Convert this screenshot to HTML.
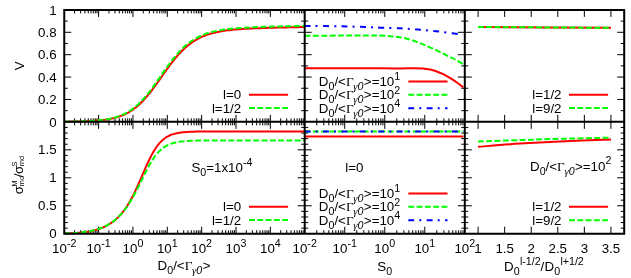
<!DOCTYPE html>
<html><head><meta charset="utf-8"><title>plot</title>
<style>
html,body{margin:0;padding:0;background:#fff;}
svg{display:block;will-change:transform}
svg{font-family:"Liberation Sans",sans-serif;font-size:13.33px;fill:#000}
.sf{font-family:"Liberation Serif",serif}
.a{fill:none;stroke:#000;stroke-width:2.0}
.t{fill:none;stroke:#000;stroke-width:1}
</style></head><body>
<svg width="631" height="278" viewBox="0 0 631 278">
<rect width="631" height="278" fill="#fff"/>
<path class="t" d="M74.59 9.90L74.59 13.40M74.59 121.85L74.59 118.35M80.64 9.90L80.64 13.40M80.64 121.85L80.64 118.35M84.93 9.90L84.93 13.40M84.93 121.85L84.93 118.35M88.26 9.90L88.26 13.40M88.26 121.85L88.26 118.35M90.98 9.90L90.98 13.40M90.98 121.85L90.98 118.35M93.28 9.90L93.28 13.40M93.28 121.85L93.28 118.35M95.27 9.90L95.27 13.40M95.27 121.85L95.27 118.35M97.03 9.90L97.03 13.40M97.03 121.85L97.03 118.35M98.60 9.90L98.60 16.90M98.60 121.85L98.60 114.85M108.94 9.90L108.94 13.40M108.94 121.85L108.94 118.35M114.99 9.90L114.99 13.40M114.99 121.85L114.99 118.35M119.28 9.90L119.28 13.40M119.28 121.85L119.28 118.35M122.61 9.90L122.61 13.40M122.61 121.85L122.61 118.35M125.33 9.90L125.33 13.40M125.33 121.85L125.33 118.35M127.63 9.90L127.63 13.40M127.63 121.85L127.63 118.35M129.62 9.90L129.62 13.40M129.62 121.85L129.62 118.35M131.38 9.90L131.38 13.40M131.38 121.85L131.38 118.35M132.95 9.90L132.95 16.90M132.95 121.85L132.95 114.85M143.29 9.90L143.29 13.40M143.29 121.85L143.29 118.35M149.34 9.90L149.34 13.40M149.34 121.85L149.34 118.35M153.63 9.90L153.63 13.40M153.63 121.85L153.63 118.35M156.96 9.90L156.96 13.40M156.96 121.85L156.96 118.35M159.68 9.90L159.68 13.40M159.68 121.85L159.68 118.35M161.98 9.90L161.98 13.40M161.98 121.85L161.98 118.35M163.97 9.90L163.97 13.40M163.97 121.85L163.97 118.35M165.73 9.90L165.73 13.40M165.73 121.85L165.73 118.35M167.30 9.90L167.30 16.90M167.30 121.85L167.30 114.85M177.64 9.90L177.64 13.40M177.64 121.85L177.64 118.35M183.69 9.90L183.69 13.40M183.69 121.85L183.69 118.35M187.98 9.90L187.98 13.40M187.98 121.85L187.98 118.35M191.31 9.90L191.31 13.40M191.31 121.85L191.31 118.35M194.03 9.90L194.03 13.40M194.03 121.85L194.03 118.35M196.33 9.90L196.33 13.40M196.33 121.85L196.33 118.35M198.32 9.90L198.32 13.40M198.32 121.85L198.32 118.35M200.08 9.90L200.08 13.40M200.08 121.85L200.08 118.35M201.65 9.90L201.65 16.90M201.65 121.85L201.65 114.85M211.99 9.90L211.99 13.40M211.99 121.85L211.99 118.35M218.04 9.90L218.04 13.40M218.04 121.85L218.04 118.35M222.33 9.90L222.33 13.40M222.33 121.85L222.33 118.35M225.66 9.90L225.66 13.40M225.66 121.85L225.66 118.35M228.38 9.90L228.38 13.40M228.38 121.85L228.38 118.35M230.68 9.90L230.68 13.40M230.68 121.85L230.68 118.35M232.67 9.90L232.67 13.40M232.67 121.85L232.67 118.35M234.43 9.90L234.43 13.40M234.43 121.85L234.43 118.35M236.00 9.90L236.00 16.90M236.00 121.85L236.00 114.85M246.34 9.90L246.34 13.40M246.34 121.85L246.34 118.35M252.39 9.90L252.39 13.40M252.39 121.85L252.39 118.35M256.68 9.90L256.68 13.40M256.68 121.85L256.68 118.35M260.01 9.90L260.01 13.40M260.01 121.85L260.01 118.35M262.73 9.90L262.73 13.40M262.73 121.85L262.73 118.35M265.03 9.90L265.03 13.40M265.03 121.85L265.03 118.35M267.02 9.90L267.02 13.40M267.02 121.85L267.02 118.35M268.78 9.90L268.78 13.40M268.78 121.85L268.78 118.35M270.35 9.90L270.35 16.90M270.35 121.85L270.35 114.85M280.69 9.90L280.69 13.40M280.69 121.85L280.69 118.35M286.74 9.90L286.74 13.40M286.74 121.85L286.74 118.35M291.03 9.90L291.03 13.40M291.03 121.85L291.03 118.35M294.36 9.90L294.36 13.40M294.36 121.85L294.36 118.35M297.08 9.90L297.08 13.40M297.08 121.85L297.08 118.35M299.38 9.90L299.38 13.40M299.38 121.85L299.38 118.35M301.37 9.90L301.37 13.40M301.37 121.85L301.37 118.35M303.13 9.90L303.13 13.40M303.13 121.85L303.13 118.35M316.75 9.90L316.75 13.40M316.75 121.85L316.75 118.35M323.80 9.90L323.80 13.40M323.80 121.85L323.80 118.35M328.80 9.90L328.80 13.40M328.80 121.85L328.80 118.35M332.68 9.90L332.68 13.40M332.68 121.85L332.68 118.35M335.85 9.90L335.85 13.40M335.85 121.85L335.85 118.35M338.53 9.90L338.53 13.40M338.53 121.85L338.53 118.35M340.85 9.90L340.85 13.40M340.85 121.85L340.85 118.35M342.89 9.90L342.89 13.40M342.89 121.85L342.89 118.35M344.73 9.90L344.73 16.90M344.73 121.85L344.73 114.85M356.77 9.90L356.77 13.40M356.77 121.85L356.77 118.35M363.82 9.90L363.82 13.40M363.82 121.85L363.82 118.35M368.82 9.90L368.82 13.40M368.82 121.85L368.82 118.35M372.70 9.90L372.70 13.40M372.70 121.85L372.70 118.35M375.87 9.90L375.87 13.40M375.87 121.85L375.87 118.35M378.55 9.90L378.55 13.40M378.55 121.85L378.55 118.35M380.87 9.90L380.87 13.40M380.87 121.85L380.87 118.35M382.92 9.90L382.92 13.40M382.92 121.85L382.92 118.35M384.75 9.90L384.75 16.90M384.75 121.85L384.75 114.85M396.80 9.90L396.80 13.40M396.80 121.85L396.80 118.35M403.85 9.90L403.85 13.40M403.85 121.85L403.85 118.35M408.85 9.90L408.85 13.40M408.85 121.85L408.85 118.35M412.73 9.90L412.73 13.40M412.73 121.85L412.73 118.35M415.90 9.90L415.90 13.40M415.90 121.85L415.90 118.35M418.58 9.90L418.58 13.40M418.58 121.85L418.58 118.35M420.90 9.90L420.90 13.40M420.90 121.85L420.90 118.35M422.94 9.90L422.94 13.40M422.94 121.85L422.94 118.35M424.77 9.90L424.77 16.90M424.77 121.85L424.77 114.85M436.82 9.90L436.82 13.40M436.82 121.85L436.82 118.35M443.87 9.90L443.87 13.40M443.87 121.85L443.87 118.35M448.87 9.90L448.87 13.40M448.87 121.85L448.87 118.35M452.75 9.90L452.75 13.40M452.75 121.85L452.75 118.35M455.92 9.90L455.92 13.40M455.92 121.85L455.92 118.35M458.60 9.90L458.60 13.40M458.60 121.85L458.60 118.35M460.92 9.90L460.92 13.40M460.92 121.85L460.92 118.35M462.97 9.90L462.97 13.40M462.97 121.85L462.97 118.35M478.08 9.90L478.08 16.90M478.08 121.85L478.08 114.85M504.65 9.90L504.65 16.90M504.65 121.85L504.65 114.85M531.22 9.90L531.22 16.90M531.22 121.85L531.22 114.85M557.78 9.90L557.78 16.90M557.78 121.85L557.78 114.85M584.35 9.90L584.35 16.90M584.35 121.85L584.35 114.85M610.92 9.90L610.92 16.90M610.92 121.85L610.92 114.85M74.59 121.85L74.59 125.35M74.59 233.75L74.59 230.25M80.64 121.85L80.64 125.35M80.64 233.75L80.64 230.25M84.93 121.85L84.93 125.35M84.93 233.75L84.93 230.25M88.26 121.85L88.26 125.35M88.26 233.75L88.26 230.25M90.98 121.85L90.98 125.35M90.98 233.75L90.98 230.25M93.28 121.85L93.28 125.35M93.28 233.75L93.28 230.25M95.27 121.85L95.27 125.35M95.27 233.75L95.27 230.25M97.03 121.85L97.03 125.35M97.03 233.75L97.03 230.25M98.60 121.85L98.60 128.85M98.60 233.75L98.60 226.75M108.94 121.85L108.94 125.35M108.94 233.75L108.94 230.25M114.99 121.85L114.99 125.35M114.99 233.75L114.99 230.25M119.28 121.85L119.28 125.35M119.28 233.75L119.28 230.25M122.61 121.85L122.61 125.35M122.61 233.75L122.61 230.25M125.33 121.85L125.33 125.35M125.33 233.75L125.33 230.25M127.63 121.85L127.63 125.35M127.63 233.75L127.63 230.25M129.62 121.85L129.62 125.35M129.62 233.75L129.62 230.25M131.38 121.85L131.38 125.35M131.38 233.75L131.38 230.25M132.95 121.85L132.95 128.85M132.95 233.75L132.95 226.75M143.29 121.85L143.29 125.35M143.29 233.75L143.29 230.25M149.34 121.85L149.34 125.35M149.34 233.75L149.34 230.25M153.63 121.85L153.63 125.35M153.63 233.75L153.63 230.25M156.96 121.85L156.96 125.35M156.96 233.75L156.96 230.25M159.68 121.85L159.68 125.35M159.68 233.75L159.68 230.25M161.98 121.85L161.98 125.35M161.98 233.75L161.98 230.25M163.97 121.85L163.97 125.35M163.97 233.75L163.97 230.25M165.73 121.85L165.73 125.35M165.73 233.75L165.73 230.25M167.30 121.85L167.30 128.85M167.30 233.75L167.30 226.75M177.64 121.85L177.64 125.35M177.64 233.75L177.64 230.25M183.69 121.85L183.69 125.35M183.69 233.75L183.69 230.25M187.98 121.85L187.98 125.35M187.98 233.75L187.98 230.25M191.31 121.85L191.31 125.35M191.31 233.75L191.31 230.25M194.03 121.85L194.03 125.35M194.03 233.75L194.03 230.25M196.33 121.85L196.33 125.35M196.33 233.75L196.33 230.25M198.32 121.85L198.32 125.35M198.32 233.75L198.32 230.25M200.08 121.85L200.08 125.35M200.08 233.75L200.08 230.25M201.65 121.85L201.65 128.85M201.65 233.75L201.65 226.75M211.99 121.85L211.99 125.35M211.99 233.75L211.99 230.25M218.04 121.85L218.04 125.35M218.04 233.75L218.04 230.25M222.33 121.85L222.33 125.35M222.33 233.75L222.33 230.25M225.66 121.85L225.66 125.35M225.66 233.75L225.66 230.25M228.38 121.85L228.38 125.35M228.38 233.75L228.38 230.25M230.68 121.85L230.68 125.35M230.68 233.75L230.68 230.25M232.67 121.85L232.67 125.35M232.67 233.75L232.67 230.25M234.43 121.85L234.43 125.35M234.43 233.75L234.43 230.25M236.00 121.85L236.00 128.85M236.00 233.75L236.00 226.75M246.34 121.85L246.34 125.35M246.34 233.75L246.34 230.25M252.39 121.85L252.39 125.35M252.39 233.75L252.39 230.25M256.68 121.85L256.68 125.35M256.68 233.75L256.68 230.25M260.01 121.85L260.01 125.35M260.01 233.75L260.01 230.25M262.73 121.85L262.73 125.35M262.73 233.75L262.73 230.25M265.03 121.85L265.03 125.35M265.03 233.75L265.03 230.25M267.02 121.85L267.02 125.35M267.02 233.75L267.02 230.25M268.78 121.85L268.78 125.35M268.78 233.75L268.78 230.25M270.35 121.85L270.35 128.85M270.35 233.75L270.35 226.75M280.69 121.85L280.69 125.35M280.69 233.75L280.69 230.25M286.74 121.85L286.74 125.35M286.74 233.75L286.74 230.25M291.03 121.85L291.03 125.35M291.03 233.75L291.03 230.25M294.36 121.85L294.36 125.35M294.36 233.75L294.36 230.25M297.08 121.85L297.08 125.35M297.08 233.75L297.08 230.25M299.38 121.85L299.38 125.35M299.38 233.75L299.38 230.25M301.37 121.85L301.37 125.35M301.37 233.75L301.37 230.25M303.13 121.85L303.13 125.35M303.13 233.75L303.13 230.25M316.75 121.85L316.75 125.35M316.75 233.75L316.75 230.25M323.80 121.85L323.80 125.35M323.80 233.75L323.80 230.25M328.80 121.85L328.80 125.35M328.80 233.75L328.80 230.25M332.68 121.85L332.68 125.35M332.68 233.75L332.68 230.25M335.85 121.85L335.85 125.35M335.85 233.75L335.85 230.25M338.53 121.85L338.53 125.35M338.53 233.75L338.53 230.25M340.85 121.85L340.85 125.35M340.85 233.75L340.85 230.25M342.89 121.85L342.89 125.35M342.89 233.75L342.89 230.25M344.73 121.85L344.73 128.85M344.73 233.75L344.73 226.75M356.77 121.85L356.77 125.35M356.77 233.75L356.77 230.25M363.82 121.85L363.82 125.35M363.82 233.75L363.82 230.25M368.82 121.85L368.82 125.35M368.82 233.75L368.82 230.25M372.70 121.85L372.70 125.35M372.70 233.75L372.70 230.25M375.87 121.85L375.87 125.35M375.87 233.75L375.87 230.25M378.55 121.85L378.55 125.35M378.55 233.75L378.55 230.25M380.87 121.85L380.87 125.35M380.87 233.75L380.87 230.25M382.92 121.85L382.92 125.35M382.92 233.75L382.92 230.25M384.75 121.85L384.75 128.85M384.75 233.75L384.75 226.75M396.80 121.85L396.80 125.35M396.80 233.75L396.80 230.25M403.85 121.85L403.85 125.35M403.85 233.75L403.85 230.25M408.85 121.85L408.85 125.35M408.85 233.75L408.85 230.25M412.73 121.85L412.73 125.35M412.73 233.75L412.73 230.25M415.90 121.85L415.90 125.35M415.90 233.75L415.90 230.25M418.58 121.85L418.58 125.35M418.58 233.75L418.58 230.25M420.90 121.85L420.90 125.35M420.90 233.75L420.90 230.25M422.94 121.85L422.94 125.35M422.94 233.75L422.94 230.25M424.77 121.85L424.77 128.85M424.77 233.75L424.77 226.75M436.82 121.85L436.82 125.35M436.82 233.75L436.82 230.25M443.87 121.85L443.87 125.35M443.87 233.75L443.87 230.25M448.87 121.85L448.87 125.35M448.87 233.75L448.87 230.25M452.75 121.85L452.75 125.35M452.75 233.75L452.75 230.25M455.92 121.85L455.92 125.35M455.92 233.75L455.92 230.25M458.60 121.85L458.60 125.35M458.60 233.75L458.60 230.25M460.92 121.85L460.92 125.35M460.92 233.75L460.92 230.25M462.97 121.85L462.97 125.35M462.97 233.75L462.97 230.25M478.08 121.85L478.08 128.85M478.08 233.75L478.08 226.75M504.65 121.85L504.65 128.85M504.65 233.75L504.65 226.75M531.22 121.85L531.22 128.85M531.22 233.75L531.22 226.75M557.78 121.85L557.78 128.85M557.78 233.75L557.78 226.75M584.35 121.85L584.35 128.85M584.35 233.75L584.35 226.75M610.92 121.85L610.92 128.85M610.92 233.75L610.92 226.75M64.25 110.66L67.75 110.66M304.70 110.66L301.20 110.66M304.70 110.66L308.20 110.66M464.80 110.66L461.30 110.66M464.80 110.66L468.30 110.66M624.20 110.66L620.70 110.66M64.25 99.46L71.25 99.46M304.70 99.46L297.70 99.46M304.70 99.46L311.70 99.46M464.80 99.46L457.80 99.46M464.80 99.46L471.80 99.46M624.20 99.46L617.20 99.46M64.25 88.26L67.75 88.26M304.70 88.26L301.20 88.26M304.70 88.26L308.20 88.26M464.80 88.26L461.30 88.26M464.80 88.26L468.30 88.26M624.20 88.26L620.70 88.26M64.25 77.07L71.25 77.07M304.70 77.07L297.70 77.07M304.70 77.07L311.70 77.07M464.80 77.07L457.80 77.07M464.80 77.07L471.80 77.07M624.20 77.07L617.20 77.07M64.25 65.88L67.75 65.88M304.70 65.88L301.20 65.88M304.70 65.88L308.20 65.88M464.80 65.88L461.30 65.88M464.80 65.88L468.30 65.88M624.20 65.88L620.70 65.88M64.25 54.68L71.25 54.68M304.70 54.68L297.70 54.68M304.70 54.68L311.70 54.68M464.80 54.68L457.80 54.68M464.80 54.68L471.80 54.68M624.20 54.68L617.20 54.68M64.25 43.48L67.75 43.48M304.70 43.48L301.20 43.48M304.70 43.48L308.20 43.48M464.80 43.48L461.30 43.48M464.80 43.48L468.30 43.48M624.20 43.48L620.70 43.48M64.25 32.29L71.25 32.29M304.70 32.29L297.70 32.29M304.70 32.29L311.70 32.29M464.80 32.29L457.80 32.29M464.80 32.29L471.80 32.29M624.20 32.29L617.20 32.29M64.25 21.09L67.75 21.09M304.70 21.09L301.20 21.09M304.70 21.09L308.20 21.09M464.80 21.09L461.30 21.09M464.80 21.09L468.30 21.09M624.20 21.09L620.70 21.09M64.25 228.16L67.75 228.16M304.70 228.16L301.20 228.16M304.70 228.16L308.20 228.16M464.80 228.16L461.30 228.16M464.80 228.16L468.30 228.16M624.20 228.16L620.70 228.16M64.25 222.56L67.75 222.56M304.70 222.56L301.20 222.56M304.70 222.56L308.20 222.56M464.80 222.56L461.30 222.56M464.80 222.56L468.30 222.56M624.20 222.56L620.70 222.56M64.25 216.97L67.75 216.97M304.70 216.97L301.20 216.97M304.70 216.97L308.20 216.97M464.80 216.97L461.30 216.97M464.80 216.97L468.30 216.97M624.20 216.97L620.70 216.97M64.25 211.37L67.75 211.37M304.70 211.37L301.20 211.37M304.70 211.37L308.20 211.37M464.80 211.37L461.30 211.37M464.80 211.37L468.30 211.37M624.20 211.37L620.70 211.37M64.25 205.78L71.25 205.78M304.70 205.78L297.70 205.78M304.70 205.78L311.70 205.78M464.80 205.78L457.80 205.78M464.80 205.78L471.80 205.78M624.20 205.78L617.20 205.78M64.25 200.18L67.75 200.18M304.70 200.18L301.20 200.18M304.70 200.18L308.20 200.18M464.80 200.18L461.30 200.18M464.80 200.18L468.30 200.18M624.20 200.18L620.70 200.18M64.25 194.58L67.75 194.58M304.70 194.58L301.20 194.58M304.70 194.58L308.20 194.58M464.80 194.58L461.30 194.58M464.80 194.58L468.30 194.58M624.20 194.58L620.70 194.58M64.25 188.99L67.75 188.99M304.70 188.99L301.20 188.99M304.70 188.99L308.20 188.99M464.80 188.99L461.30 188.99M464.80 188.99L468.30 188.99M624.20 188.99L620.70 188.99M64.25 183.39L67.75 183.39M304.70 183.39L301.20 183.39M304.70 183.39L308.20 183.39M464.80 183.39L461.30 183.39M464.80 183.39L468.30 183.39M624.20 183.39L620.70 183.39M64.25 177.80L71.25 177.80M304.70 177.80L297.70 177.80M304.70 177.80L311.70 177.80M464.80 177.80L457.80 177.80M464.80 177.80L471.80 177.80M624.20 177.80L617.20 177.80M64.25 172.20L67.75 172.20M304.70 172.20L301.20 172.20M304.70 172.20L308.20 172.20M464.80 172.20L461.30 172.20M464.80 172.20L468.30 172.20M624.20 172.20L620.70 172.20M64.25 166.61L67.75 166.61M304.70 166.61L301.20 166.61M304.70 166.61L308.20 166.61M464.80 166.61L461.30 166.61M464.80 166.61L468.30 166.61M624.20 166.61L620.70 166.61M64.25 161.01L67.75 161.01M304.70 161.01L301.20 161.01M304.70 161.01L308.20 161.01M464.80 161.01L461.30 161.01M464.80 161.01L468.30 161.01M624.20 161.01L620.70 161.01M64.25 155.42L67.75 155.42M304.70 155.42L301.20 155.42M304.70 155.42L308.20 155.42M464.80 155.42L461.30 155.42M464.80 155.42L468.30 155.42M624.20 155.42L620.70 155.42M64.25 149.82L71.25 149.82M304.70 149.82L297.70 149.82M304.70 149.82L311.70 149.82M464.80 149.82L457.80 149.82M464.80 149.82L471.80 149.82M624.20 149.82L617.20 149.82M64.25 144.23L67.75 144.23M304.70 144.23L301.20 144.23M304.70 144.23L308.20 144.23M464.80 144.23L461.30 144.23M464.80 144.23L468.30 144.23M624.20 144.23L620.70 144.23M64.25 138.63L67.75 138.63M304.70 138.63L301.20 138.63M304.70 138.63L308.20 138.63M464.80 138.63L461.30 138.63M464.80 138.63L468.30 138.63M624.20 138.63L620.70 138.63M64.25 133.04L67.75 133.04M304.70 133.04L301.20 133.04M304.70 133.04L308.20 133.04M464.80 133.04L461.30 133.04M464.80 133.04L468.30 133.04M624.20 133.04L620.70 133.04M64.25 127.44L67.75 127.44M304.70 127.44L301.20 127.44M304.70 127.44L308.20 127.44M464.80 127.44L461.30 127.44M464.80 127.44L468.30 127.44M624.20 127.44L620.70 127.44"/>
<path d="M64.30 121.67C64.59 121.67 65.44 121.66 66.02 121.66C66.59 121.65 67.16 121.65 67.73 121.64C68.31 121.63 68.88 121.63 69.45 121.62C70.02 121.61 70.60 121.61 71.17 121.60C71.74 121.59 72.31 121.58 72.89 121.57C73.46 121.56 74.03 121.55 74.60 121.54C75.18 121.53 75.75 121.52 76.32 121.51C76.89 121.50 77.46 121.49 78.04 121.47C78.61 121.46 79.18 121.45 79.75 121.43C80.33 121.42 80.90 121.40 81.47 121.39C82.04 121.37 82.62 121.35 83.19 121.33C83.76 121.31 84.33 121.30 84.91 121.27C85.48 121.25 86.05 121.23 86.62 121.21C87.20 121.18 87.77 121.16 88.34 121.13C88.91 121.11 89.48 121.08 90.06 121.05C90.63 121.02 91.20 120.99 91.77 120.96C92.35 120.92 92.92 120.89 93.49 120.85C94.06 120.81 94.64 120.77 95.21 120.73C95.78 120.69 96.35 120.64 96.93 120.60C97.50 120.55 98.07 120.50 98.64 120.45C99.22 120.40 99.79 120.34 100.36 120.28C100.93 120.22 101.50 120.16 102.08 120.09C102.65 120.03 103.22 119.96 103.79 119.88C104.37 119.81 104.94 119.73 105.51 119.65C106.08 119.57 106.66 119.48 107.23 119.39C107.80 119.29 108.37 119.20 108.95 119.09C109.52 118.99 110.09 118.88 110.66 118.77C111.24 118.65 111.81 118.53 112.38 118.40C112.95 118.27 113.52 118.14 114.10 118.00C114.67 117.85 115.24 117.71 115.81 117.55C116.39 117.39 116.96 117.22 117.53 117.05C118.10 116.87 118.68 116.69 119.25 116.50C119.82 116.30 120.39 116.10 120.97 115.89C121.54 115.67 122.11 115.45 122.68 115.21C123.26 114.98 123.83 114.73 124.40 114.47C124.97 114.21 125.55 113.94 126.12 113.66C126.69 113.37 127.26 113.08 127.83 112.76C128.41 112.45 128.98 112.13 129.55 111.79C130.12 111.45 130.70 111.10 131.27 110.73C131.84 110.36 132.41 109.97 132.99 109.57C133.56 109.17 134.13 108.75 134.70 108.32C135.28 107.89 135.85 107.44 136.42 106.97C136.99 106.50 137.57 106.02 138.14 105.52C138.71 105.02 139.28 104.50 139.85 103.96C140.43 103.43 141.00 102.87 141.57 102.30C142.14 101.73 142.72 101.15 143.29 100.54C143.86 99.94 144.43 99.32 145.01 98.68C145.58 98.04 146.15 97.39 146.72 96.72C147.30 96.05 147.87 95.37 148.44 94.67C149.01 93.97 149.59 93.25 150.16 92.53C150.73 91.80 151.30 91.06 151.87 90.31C152.45 89.56 153.02 88.79 153.59 88.02C154.16 87.25 154.74 86.47 155.31 85.68C155.88 84.89 156.45 84.09 157.03 83.28C157.60 82.48 158.17 81.67 158.74 80.86C159.32 80.04 159.89 79.23 160.46 78.41C161.03 77.59 161.61 76.77 162.18 75.95C162.75 75.13 163.32 74.32 163.89 73.50C164.47 72.69 165.04 71.87 165.61 71.07C166.18 70.26 166.76 69.46 167.33 68.67C167.90 67.87 168.47 67.09 169.05 66.31C169.62 65.53 170.19 64.76 170.76 64.01C171.34 63.25 171.91 62.50 172.48 61.77C173.05 61.03 173.63 60.31 174.20 59.60C174.77 58.89 175.34 58.19 175.91 57.51C176.49 56.83 177.06 56.16 177.63 55.51C178.20 54.86 178.78 54.22 179.35 53.60C179.92 52.97 180.49 52.37 181.07 51.77C181.64 51.18 182.21 50.61 182.78 50.05C183.36 49.49 183.93 48.95 184.50 48.42C185.07 47.89 185.65 47.38 186.22 46.88C186.79 46.39 187.36 45.91 187.93 45.44C188.51 44.98 189.08 44.53 189.65 44.09C190.22 43.66 190.80 43.24 191.37 42.83C191.94 42.43 192.51 42.04 193.09 41.66C193.66 41.28 194.23 40.92 194.80 40.57C195.38 40.22 195.95 39.88 196.52 39.55C197.09 39.23 197.67 38.92 198.24 38.61C198.81 38.31 199.38 38.02 199.95 37.75C200.53 37.47 201.10 37.20 201.67 36.94C202.24 36.69 202.82 36.44 203.39 36.20C203.96 35.97 204.53 35.74 205.11 35.52C205.68 35.31 206.25 35.10 206.82 34.90C207.40 34.70 207.97 34.50 208.54 34.32C209.11 34.13 209.69 33.96 210.26 33.79C210.83 33.62 211.40 33.46 211.97 33.30C212.55 33.14 213.12 33.00 213.69 32.85C214.26 32.71 214.84 32.57 215.41 32.44C215.98 32.31 216.55 32.18 217.13 32.06C217.70 31.94 218.27 31.83 218.84 31.72C219.42 31.61 219.99 31.50 220.56 31.40C221.13 31.30 221.71 31.20 222.28 31.10C222.85 31.01 223.42 30.92 223.99 30.84C224.57 30.75 225.14 30.67 225.71 30.59C226.28 30.51 226.86 30.43 227.43 30.36C228.00 30.29 228.57 30.22 229.15 30.15C229.72 30.08 230.29 30.02 230.86 29.96C231.44 29.89 232.01 29.83 232.58 29.78C233.15 29.72 233.73 29.66 234.30 29.61C234.87 29.56 235.44 29.51 236.02 29.46C236.59 29.41 237.16 29.36 237.73 29.32C238.30 29.27 238.88 29.23 239.45 29.19C240.02 29.14 240.59 29.10 241.17 29.06C241.74 29.02 242.31 28.99 242.88 28.95C243.46 28.91 244.03 28.88 244.60 28.84C245.17 28.81 245.75 28.78 246.32 28.74C246.89 28.71 247.46 28.68 248.04 28.65C248.61 28.62 249.18 28.59 249.75 28.56C250.32 28.53 250.90 28.51 251.47 28.48C252.04 28.45 252.61 28.43 253.19 28.40C253.76 28.38 254.33 28.35 254.90 28.33C255.48 28.30 256.05 28.28 256.62 28.26C257.19 28.24 257.77 28.21 258.34 28.19C258.91 28.17 259.48 28.15 260.06 28.13C260.63 28.11 261.20 28.09 261.77 28.07C262.34 28.05 262.92 28.03 263.49 28.01C264.06 27.99 264.63 27.97 265.21 27.96C265.78 27.94 266.35 27.92 266.92 27.90C267.50 27.89 268.07 27.87 268.64 27.85C269.21 27.83 269.79 27.82 270.36 27.80C270.93 27.79 271.50 27.77 272.08 27.75C272.65 27.74 273.22 27.72 273.79 27.71C274.36 27.69 274.94 27.68 275.51 27.66C276.08 27.65 276.65 27.63 277.23 27.62C277.80 27.60 278.37 27.59 278.94 27.57C279.52 27.56 280.09 27.55 280.66 27.53C281.23 27.52 281.81 27.50 282.38 27.49C282.95 27.48 283.52 27.46 284.10 27.45C284.67 27.44 285.24 27.42 285.81 27.41C286.38 27.40 286.96 27.38 287.53 27.37C288.10 27.36 288.67 27.35 289.25 27.33C289.82 27.32 290.39 27.31 290.96 27.29C291.54 27.28 292.11 27.27 292.68 27.26C293.25 27.24 293.83 27.23 294.40 27.22C294.97 27.21 295.54 27.19 296.12 27.18C296.69 27.17 297.26 27.16 297.83 27.15C298.40 27.13 298.98 27.12 299.55 27.11C300.12 27.10 300.69 27.09 301.27 27.07C301.84 27.06 302.41 27.05 302.98 27.04C303.56 27.03 304.41 27.01 304.70 27.00" fill="none" stroke="#ff0000" stroke-width="2"/>
<path d="M64.30 121.66C64.59 121.66 65.44 121.65 66.02 121.65C66.59 121.64 67.16 121.63 67.73 121.63C68.31 121.62 68.88 121.61 69.45 121.60C70.02 121.60 70.60 121.59 71.17 121.58C71.74 121.57 72.31 121.56 72.89 121.55C73.46 121.54 74.03 121.53 74.60 121.52C75.18 121.51 75.75 121.50 76.32 121.49C76.89 121.47 77.46 121.46 78.04 121.45C78.61 121.43 79.18 121.42 79.75 121.40C80.33 121.38 80.90 121.37 81.47 121.35C82.04 121.33 82.62 121.31 83.19 121.29C83.76 121.27 84.33 121.25 84.91 121.23C85.48 121.21 86.05 121.18 86.62 121.16C87.20 121.13 87.77 121.10 88.34 121.08C88.91 121.05 89.48 121.02 90.06 120.98C90.63 120.95 91.20 120.92 91.77 120.88C92.35 120.85 92.92 120.81 93.49 120.77C94.06 120.73 94.64 120.68 95.21 120.64C95.78 120.59 96.35 120.55 96.93 120.49C97.50 120.44 98.07 120.39 98.64 120.33C99.22 120.28 99.79 120.21 100.36 120.15C100.93 120.09 101.50 120.02 102.08 119.95C102.65 119.88 103.22 119.80 103.79 119.72C104.37 119.64 104.94 119.56 105.51 119.47C106.08 119.38 106.66 119.28 107.23 119.18C107.80 119.08 108.37 118.98 108.95 118.87C109.52 118.75 110.09 118.64 110.66 118.51C111.24 118.39 111.81 118.26 112.38 118.12C112.95 117.98 113.52 117.84 114.10 117.68C114.67 117.53 115.24 117.37 115.81 117.20C116.39 117.03 116.96 116.85 117.53 116.66C118.10 116.47 118.68 116.28 119.25 116.07C119.82 115.86 120.39 115.64 120.97 115.41C121.54 115.18 122.11 114.94 122.68 114.69C123.26 114.44 123.83 114.18 124.40 113.90C124.97 113.62 125.55 113.33 126.12 113.03C126.69 112.72 127.26 112.41 127.83 112.07C128.41 111.74 128.98 111.40 129.55 111.03C130.12 110.67 130.70 110.30 131.27 109.90C131.84 109.51 132.41 109.10 132.99 108.68C133.56 108.25 134.13 107.81 134.70 107.35C135.28 106.89 135.85 106.42 136.42 105.92C136.99 105.43 137.57 104.92 138.14 104.39C138.71 103.86 139.28 103.32 139.85 102.75C140.43 102.19 141.00 101.61 141.57 101.01C142.14 100.42 142.72 99.80 143.29 99.17C143.86 98.54 144.43 97.89 145.01 97.22C145.58 96.56 146.15 95.88 146.72 95.18C147.30 94.49 147.87 93.78 148.44 93.05C149.01 92.33 149.59 91.59 150.16 90.84C150.73 90.09 151.30 89.32 151.87 88.55C152.45 87.78 153.02 86.99 153.59 86.20C154.16 85.41 154.74 84.60 155.31 83.80C155.88 82.99 156.45 82.17 157.03 81.35C157.60 80.53 158.17 79.71 158.74 78.88C159.32 78.06 159.89 77.22 160.46 76.40C161.03 75.57 161.61 74.74 162.18 73.91C162.75 73.09 163.32 72.26 163.89 71.44C164.47 70.62 165.04 69.81 165.61 69.00C166.18 68.19 166.76 67.39 167.33 66.59C167.90 65.80 168.47 65.01 169.05 64.24C169.62 63.46 170.19 62.70 170.76 61.94C171.34 61.19 171.91 60.45 172.48 59.72C173.05 58.99 173.63 58.28 174.20 57.57C174.77 56.87 175.34 56.18 175.91 55.51C176.49 54.84 177.06 54.18 177.63 53.54C178.20 52.90 178.78 52.27 179.35 51.66C179.92 51.05 180.49 50.45 181.07 49.88C181.64 49.30 182.21 48.73 182.78 48.19C183.36 47.64 183.93 47.11 184.50 46.59C185.07 46.08 185.65 45.58 186.22 45.10C186.79 44.62 187.36 44.15 187.93 43.70C188.51 43.24 189.08 42.81 189.65 42.38C190.22 41.96 190.80 41.55 191.37 41.16C191.94 40.77 192.51 40.39 193.09 40.02C193.66 39.66 194.23 39.31 194.80 38.97C195.38 38.63 195.95 38.30 196.52 37.99C197.09 37.67 197.67 37.37 198.24 37.08C198.81 36.79 199.38 36.51 199.95 36.24C200.53 35.97 201.10 35.72 201.67 35.47C202.24 35.22 202.82 34.99 203.39 34.76C203.96 34.53 204.53 34.31 205.11 34.10C205.68 33.89 206.25 33.69 206.82 33.50C207.40 33.30 207.97 33.12 208.54 32.94C209.11 32.76 209.69 32.59 210.26 32.43C210.83 32.27 211.40 32.11 211.97 31.96C212.55 31.81 213.12 31.67 213.69 31.53C214.26 31.39 214.84 31.26 215.41 31.14C215.98 31.01 216.55 30.89 217.13 30.77C217.70 30.66 218.27 30.55 218.84 30.44C219.42 30.33 219.99 30.23 220.56 30.13C221.13 30.03 221.71 29.94 222.28 29.85C222.85 29.76 223.42 29.67 223.99 29.59C224.57 29.51 225.14 29.43 225.71 29.35C226.28 29.28 226.86 29.20 227.43 29.13C228.00 29.06 228.57 29.00 229.15 28.93C229.72 28.87 230.29 28.80 230.86 28.74C231.44 28.68 232.01 28.63 232.58 28.57C233.15 28.52 233.73 28.46 234.30 28.41C234.87 28.36 235.44 28.31 236.02 28.26C236.59 28.22 237.16 28.17 237.73 28.13C238.30 28.08 238.88 28.04 239.45 28.00C240.02 27.96 240.59 27.92 241.17 27.88C241.74 27.84 242.31 27.81 242.88 27.77C243.46 27.73 244.03 27.70 244.60 27.67C245.17 27.63 245.75 27.60 246.32 27.57C246.89 27.54 247.46 27.51 248.04 27.48C248.61 27.45 249.18 27.42 249.75 27.39C250.32 27.37 250.90 27.34 251.47 27.31C252.04 27.29 252.61 27.26 253.19 27.24C253.76 27.21 254.33 27.19 254.90 27.16C255.48 27.14 256.05 27.12 256.62 27.10C257.19 27.07 257.77 27.05 258.34 27.03C258.91 27.01 259.48 26.99 260.06 26.97C260.63 26.95 261.20 26.93 261.77 26.91C262.34 26.89 262.92 26.87 263.49 26.85C264.06 26.83 264.63 26.82 265.21 26.80C265.78 26.78 266.35 26.76 266.92 26.75C267.50 26.73 268.07 26.71 268.64 26.69C269.21 26.68 269.79 26.66 270.36 26.64C270.93 26.63 271.50 26.61 272.08 26.60C272.65 26.58 273.22 26.57 273.79 26.55C274.36 26.54 274.94 26.52 275.51 26.51C276.08 26.49 276.65 26.48 277.23 26.46C277.80 26.45 278.37 26.43 278.94 26.42C279.52 26.40 280.09 26.39 280.66 26.38C281.23 26.36 281.81 26.35 282.38 26.33C282.95 26.32 283.52 26.31 284.10 26.29C284.67 26.28 285.24 26.27 285.81 26.25C286.38 26.24 286.96 26.23 287.53 26.21C288.10 26.20 288.67 26.19 289.25 26.18C289.82 26.16 290.39 26.15 290.96 26.14C291.54 26.12 292.11 26.11 292.68 26.10C293.25 26.09 293.83 26.07 294.40 26.06C294.97 26.05 295.54 26.04 296.12 26.03C296.69 26.01 297.26 26.00 297.83 25.99C298.40 25.98 298.98 25.96 299.55 25.95C300.12 25.94 300.69 25.93 301.27 25.92C301.84 25.90 302.41 25.89 302.98 25.88C303.56 25.87 304.41 25.85 304.70 25.84" fill="none" stroke="#00ff00" stroke-width="2" stroke-dasharray="5.9 2.4"/>
<path d="M304.70 68.30C310.58 68.30 327.45 68.30 340.00 68.30C352.55 68.30 370.00 68.28 380.00 68.30C390.00 68.32 394.17 68.42 400.00 68.40C405.83 68.38 411.17 68.20 415.00 68.20C418.83 68.20 420.52 68.20 423.00 68.40C425.48 68.60 427.60 68.88 429.90 69.40C432.20 69.92 434.50 70.67 436.80 71.50C439.10 72.33 441.38 73.25 443.70 74.40C446.02 75.55 448.38 76.97 450.70 78.40C453.02 79.83 455.50 81.52 457.60 83.00C459.70 84.48 462.35 86.58 463.30 87.30" fill="none" stroke="#ff0000" stroke-width="2"/>
<path d="M304.70 35.70C310.58 35.68 329.12 35.63 340.00 35.60C350.88 35.57 363.33 35.50 370.00 35.50C376.67 35.50 376.67 35.48 380.00 35.60C383.33 35.72 386.67 35.92 390.00 36.20C393.33 36.48 396.42 36.67 400.00 37.30C403.58 37.93 407.67 38.82 411.50 40.00C415.33 41.18 419.17 42.83 423.00 44.40C426.83 45.97 430.67 47.63 434.50 49.40C438.33 51.17 442.53 53.30 446.00 55.00C449.47 56.70 452.42 58.10 455.30 59.60C458.18 61.10 461.97 63.27 463.30 64.00" fill="none" stroke="#00ff00" stroke-width="2" stroke-dasharray="5.9 2.4"/>
<path d="M304.70 25.90C310.58 25.97 329.12 26.08 340.00 26.30C350.88 26.52 363.33 26.97 370.00 27.20C376.67 27.43 375.00 27.52 380.00 27.70C385.00 27.88 393.70 27.98 400.00 28.30C406.30 28.62 411.82 29.12 417.80 29.60C423.78 30.08 429.82 30.53 435.90 31.20C441.98 31.87 449.83 33.02 454.30 33.60C458.77 34.18 461.30 34.52 462.70 34.70" fill="none" stroke="#0000ff" stroke-width="2" stroke-dasharray="5.9 5.1 2.0 5.4"/>
<path d="M478.00 27.00C500.17 27.13 588.83 27.67 611.00 27.80" fill="none" stroke="#ff0000" stroke-width="2"/>
<path d="M478.00 27.00C500.17 27.13 588.83 27.67 611.00 27.80" fill="none" stroke="#00ff00" stroke-width="2" stroke-dasharray="5.9 2.4"/>
<path d="M64.25 233.37C64.54 233.36 65.39 233.35 65.97 233.34C66.54 233.33 67.11 233.32 67.69 233.31C68.26 233.30 68.83 233.29 69.40 233.27C69.98 233.26 70.55 233.24 71.12 233.22C71.69 233.20 72.27 233.18 72.84 233.16C73.41 233.14 73.98 233.11 74.56 233.08C75.13 233.05 75.70 233.02 76.27 232.99C76.84 232.95 77.42 232.92 77.99 232.87C78.56 232.83 79.13 232.79 79.71 232.74C80.28 232.69 80.85 232.63 81.42 232.58C82.00 232.52 82.57 232.46 83.14 232.39C83.72 232.32 84.29 232.25 84.86 232.17C85.43 232.09 86.00 232.01 86.58 231.92C87.15 231.83 87.72 231.74 88.30 231.64C88.87 231.53 89.44 231.43 90.01 231.31C90.59 231.20 91.16 231.08 91.73 230.95C92.30 230.83 92.88 230.69 93.45 230.55C94.02 230.41 94.59 230.26 95.16 230.11C95.74 229.95 96.31 229.79 96.88 229.61C97.46 229.44 98.03 229.26 98.60 229.07C99.17 228.88 99.74 228.68 100.32 228.47C100.89 228.26 101.46 228.04 102.03 227.80C102.61 227.57 103.18 227.33 103.75 227.08C104.33 226.82 104.90 226.55 105.47 226.27C106.04 225.99 106.61 225.70 107.19 225.39C107.76 225.08 108.33 224.76 108.91 224.42C109.48 224.08 110.05 223.72 110.62 223.35C111.20 222.97 111.77 222.58 112.34 222.17C112.91 221.76 113.48 221.33 114.06 220.88C114.63 220.42 115.20 219.95 115.78 219.45C116.35 218.96 116.92 218.44 117.49 217.89C118.07 217.35 118.64 216.78 119.21 216.18C119.78 215.58 120.36 214.96 120.93 214.30C121.50 213.65 122.07 212.96 122.65 212.25C123.22 211.53 123.79 210.79 124.36 210.01C124.94 209.23 125.51 208.42 126.08 207.57C126.65 206.73 127.23 205.85 127.80 204.93C128.37 204.02 128.94 203.07 129.51 202.09C130.09 201.10 130.66 200.08 131.23 199.03C131.81 197.98 132.38 196.89 132.95 195.77C133.52 194.65 134.10 193.49 134.67 192.31C135.24 191.13 135.81 189.91 136.38 188.68C136.96 187.44 137.53 186.18 138.10 184.90C138.68 183.62 139.25 182.31 139.82 181.00C140.39 179.69 140.97 178.36 141.54 177.03C142.11 175.71 142.68 174.37 143.25 173.04C143.83 171.72 144.40 170.39 144.97 169.08C145.55 167.78 146.12 166.48 146.69 165.21C147.26 163.94 147.84 162.69 148.41 161.48C148.98 160.26 149.55 159.07 150.12 157.93C150.70 156.79 151.27 155.67 151.84 154.61C152.42 153.55 152.99 152.53 153.56 151.55C154.13 150.58 154.71 149.65 155.28 148.77C155.85 147.89 156.42 147.06 157.00 146.27C157.57 145.49 158.14 144.75 158.71 144.06C159.28 143.36 159.86 142.72 160.43 142.11C161.00 141.51 161.58 140.95 162.15 140.42C162.72 139.90 163.29 139.42 163.87 138.97C164.44 138.52 165.01 138.11 165.58 137.73C166.16 137.34 166.73 137.00 167.30 136.67C167.87 136.35 168.45 136.05 169.02 135.78C169.59 135.51 170.16 135.26 170.74 135.03C171.31 134.80 171.88 134.60 172.45 134.41C173.03 134.21 173.60 134.04 174.17 133.88C174.74 133.72 175.31 133.58 175.89 133.45C176.46 133.32 177.03 133.20 177.61 133.09C178.18 132.98 178.75 132.88 179.32 132.79C179.89 132.70 180.47 132.62 181.04 132.54C181.61 132.47 182.19 132.40 182.76 132.34C183.33 132.28 183.90 132.22 184.48 132.17C185.05 132.12 185.62 132.08 186.19 132.03C186.76 131.99 187.34 131.96 187.91 131.92C188.48 131.89 189.06 131.86 189.63 131.83C190.20 131.80 190.77 131.77 191.35 131.75C191.92 131.73 192.49 131.71 193.06 131.69C193.63 131.67 194.21 131.65 194.78 131.64C195.35 131.62 195.93 131.61 196.50 131.59C197.07 131.58 197.64 131.57 198.22 131.56C198.79 131.55 199.36 131.54 199.93 131.53C200.50 131.52 201.08 131.51 201.65 131.51C202.22 131.50 202.80 131.49 203.37 131.49C203.94 131.48 204.51 131.48 205.09 131.47C205.66 131.47 206.23 131.46 206.80 131.46C207.38 131.45 207.95 131.45 208.52 131.45C209.09 131.44 209.67 131.44 210.24 131.44C210.81 131.44 211.38 131.43 211.96 131.43C212.53 131.43 213.10 131.43 213.67 131.43C214.25 131.42 214.82 131.42 215.39 131.42C215.96 131.42 216.54 131.42 217.11 131.42C217.68 131.42 218.25 131.41 218.83 131.41C219.40 131.41 219.97 131.41 220.54 131.41C221.11 131.41 221.69 131.41 222.26 131.41C222.83 131.41 223.41 131.41 223.98 131.41C224.55 131.41 225.12 131.41 225.70 131.41C226.27 131.41 226.84 131.40 227.41 131.40C227.98 131.40 228.56 131.40 229.13 131.40C229.70 131.40 230.28 131.40 230.85 131.40C231.42 131.40 231.99 131.40 232.57 131.40C233.14 131.40 233.71 131.40 234.28 131.40C234.86 131.40 235.43 131.40 236.00 131.40C236.57 131.40 237.15 131.40 237.72 131.40C238.29 131.40 238.86 131.40 239.44 131.40C240.01 131.40 240.58 131.40 241.15 131.40C241.73 131.40 242.30 131.40 242.87 131.40C243.44 131.40 244.01 131.40 244.59 131.40C245.16 131.40 245.73 131.40 246.31 131.40C246.88 131.40 247.45 131.40 248.02 131.40C248.60 131.40 249.17 131.40 249.74 131.40C250.31 131.40 250.89 131.40 251.46 131.40C252.03 131.40 252.60 131.40 253.18 131.40C253.75 131.40 254.32 131.40 254.89 131.40C255.47 131.40 256.04 131.40 256.61 131.40C257.18 131.40 257.75 131.40 258.33 131.40C258.90 131.40 259.47 131.40 260.05 131.40C260.62 131.40 261.19 131.40 261.76 131.40C262.34 131.40 262.91 131.40 263.48 131.40C264.05 131.40 264.62 131.40 265.20 131.40C265.77 131.40 266.34 131.40 266.92 131.40C267.49 131.40 268.06 131.40 268.63 131.40C269.21 131.40 269.78 131.40 270.35 131.40C270.92 131.40 271.50 131.40 272.07 131.40C272.64 131.40 273.21 131.40 273.79 131.40C274.36 131.40 274.93 131.40 275.50 131.40C276.08 131.40 276.65 131.40 277.22 131.40C277.79 131.40 278.37 131.40 278.94 131.40C279.51 131.40 280.08 131.40 280.66 131.40C281.23 131.40 281.80 131.40 282.37 131.40C282.95 131.40 283.52 131.40 284.09 131.40C284.66 131.40 285.24 131.40 285.81 131.40C286.38 131.40 286.95 131.40 287.52 131.40C288.10 131.40 288.67 131.40 289.24 131.40C289.82 131.40 290.39 131.40 290.96 131.40C291.53 131.40 292.11 131.40 292.68 131.40C293.25 131.40 293.82 131.40 294.39 131.40C294.97 131.40 295.54 131.40 296.11 131.40C296.69 131.40 297.26 131.40 297.83 131.40C298.40 131.40 298.98 131.40 299.55 131.40C300.12 131.40 300.69 131.40 301.26 131.40C301.84 131.40 302.41 131.40 302.98 131.40C303.56 131.40 304.41 131.40 304.70 131.40" fill="none" stroke="#ff0000" stroke-width="2"/>
<path d="M64.25 233.36C64.54 233.35 65.39 233.34 65.97 233.33C66.54 233.32 67.11 233.31 67.69 233.29C68.26 233.28 68.83 233.27 69.40 233.25C69.98 233.23 70.55 233.22 71.12 233.19C71.69 233.17 72.27 233.15 72.84 233.13C73.41 233.10 73.98 233.07 74.56 233.04C75.13 233.01 75.70 232.98 76.27 232.94C76.84 232.90 77.42 232.86 77.99 232.82C78.56 232.77 79.13 232.72 79.71 232.67C80.28 232.62 80.85 232.56 81.42 232.50C82.00 232.43 82.57 232.37 83.14 232.29C83.72 232.22 84.29 232.15 84.86 232.06C85.43 231.98 86.00 231.89 86.58 231.80C87.15 231.70 87.72 231.60 88.30 231.50C88.87 231.39 89.44 231.28 90.01 231.16C90.59 231.04 91.16 230.92 91.73 230.79C92.30 230.65 92.88 230.51 93.45 230.37C94.02 230.22 94.59 230.07 95.16 229.91C95.74 229.75 96.31 229.58 96.88 229.40C97.46 229.22 98.03 229.04 98.60 228.84C99.17 228.65 99.74 228.44 100.32 228.23C100.89 228.02 101.46 227.79 102.03 227.56C102.61 227.32 103.18 227.08 103.75 226.82C104.33 226.57 104.90 226.30 105.47 226.02C106.04 225.74 106.61 225.44 107.19 225.14C107.76 224.83 108.33 224.51 108.91 224.17C109.48 223.83 110.05 223.48 110.62 223.11C111.20 222.74 111.77 222.36 112.34 221.96C112.91 221.55 113.48 221.13 114.06 220.69C114.63 220.25 115.20 219.79 115.78 219.31C116.35 218.82 116.92 218.32 117.49 217.79C118.07 217.27 118.64 216.72 119.21 216.15C119.78 215.57 120.36 214.97 120.93 214.35C121.50 213.72 122.07 213.08 122.65 212.40C123.22 211.72 123.79 211.01 124.36 210.28C124.94 209.55 125.51 208.79 126.08 207.99C126.65 207.20 127.23 206.38 127.80 205.53C128.37 204.68 128.94 203.80 129.51 202.90C130.09 201.99 130.66 201.05 131.23 200.09C131.81 199.12 132.38 198.13 132.95 197.11C133.52 196.09 134.10 195.05 134.67 193.98C135.24 192.91 135.81 191.82 136.38 190.72C136.96 189.61 137.53 188.48 138.10 187.34C138.68 186.21 139.25 185.05 139.82 183.89C140.39 182.74 140.97 181.57 141.54 180.40C142.11 179.24 142.68 178.07 143.25 176.92C143.83 175.76 144.40 174.61 144.97 173.47C145.55 172.34 146.12 171.22 146.69 170.12C147.26 169.03 147.84 167.95 148.41 166.90C148.98 165.86 149.55 164.84 150.12 163.85C150.70 162.87 151.27 161.92 151.84 161.00C152.42 160.09 152.99 159.21 153.56 158.37C154.13 157.53 154.71 156.73 155.28 155.97C155.85 155.21 156.42 154.50 157.00 153.82C157.57 153.14 158.14 152.50 158.71 151.89C159.28 151.29 159.86 150.73 160.43 150.20C161.00 149.67 161.58 149.18 162.15 148.72C162.72 148.26 163.29 147.83 163.87 147.43C164.44 147.03 165.01 146.67 165.58 146.33C166.16 145.99 166.73 145.67 167.30 145.38C167.87 145.09 168.45 144.82 169.02 144.58C169.59 144.33 170.16 144.10 170.74 143.89C171.31 143.68 171.88 143.49 172.45 143.32C173.03 143.14 173.60 142.98 174.17 142.83C174.74 142.68 175.31 142.55 175.89 142.43C176.46 142.30 177.03 142.19 177.61 142.09C178.18 141.98 178.75 141.89 179.32 141.80C179.89 141.72 180.47 141.64 181.04 141.57C181.61 141.49 182.19 141.43 182.76 141.37C183.33 141.31 183.90 141.25 184.48 141.20C185.05 141.15 185.62 141.11 186.19 141.07C186.76 141.03 187.34 140.99 187.91 140.95C188.48 140.92 189.06 140.89 189.63 140.86C190.20 140.83 190.77 140.81 191.35 140.78C191.92 140.76 192.49 140.74 193.06 140.72C193.63 140.70 194.21 140.68 194.78 140.66C195.35 140.65 195.93 140.63 196.50 140.62C197.07 140.61 197.64 140.59 198.22 140.58C198.79 140.57 199.36 140.56 199.93 140.55C200.50 140.54 201.08 140.53 201.65 140.53C202.22 140.52 202.80 140.51 203.37 140.51C203.94 140.50 204.51 140.49 205.09 140.49C205.66 140.48 206.23 140.48 206.80 140.47C207.38 140.47 207.95 140.47 208.52 140.46C209.09 140.46 209.67 140.46 210.24 140.45C210.81 140.45 211.38 140.45 211.96 140.45C212.53 140.44 213.10 140.44 213.67 140.44C214.25 140.44 214.82 140.43 215.39 140.43C215.96 140.43 216.54 140.43 217.11 140.43C217.68 140.43 218.25 140.43 218.83 140.42C219.40 140.42 219.97 140.42 220.54 140.42C221.11 140.42 221.69 140.42 222.26 140.42C222.83 140.42 223.41 140.42 223.98 140.42C224.55 140.42 225.12 140.42 225.70 140.41C226.27 140.41 226.84 140.41 227.41 140.41C227.98 140.41 228.56 140.41 229.13 140.41C229.70 140.41 230.28 140.41 230.85 140.41C231.42 140.41 231.99 140.41 232.57 140.41C233.14 140.41 233.71 140.41 234.28 140.41C234.86 140.41 235.43 140.41 236.00 140.41C236.57 140.41 237.15 140.41 237.72 140.41C238.29 140.41 238.86 140.41 239.44 140.41C240.01 140.41 240.58 140.41 241.15 140.41C241.73 140.41 242.30 140.41 242.87 140.41C243.44 140.41 244.01 140.41 244.59 140.41C245.16 140.41 245.73 140.41 246.31 140.41C246.88 140.41 247.45 140.41 248.02 140.41C248.60 140.41 249.17 140.41 249.74 140.41C250.31 140.41 250.89 140.41 251.46 140.41C252.03 140.41 252.60 140.41 253.18 140.41C253.75 140.41 254.32 140.41 254.89 140.41C255.47 140.41 256.04 140.41 256.61 140.41C257.18 140.41 257.75 140.41 258.33 140.41C258.90 140.41 259.47 140.41 260.05 140.41C260.62 140.41 261.19 140.41 261.76 140.41C262.34 140.41 262.91 140.41 263.48 140.41C264.05 140.41 264.62 140.41 265.20 140.41C265.77 140.41 266.34 140.41 266.92 140.41C267.49 140.41 268.06 140.41 268.63 140.41C269.21 140.41 269.78 140.41 270.35 140.41C270.92 140.41 271.50 140.41 272.07 140.41C272.64 140.41 273.21 140.41 273.79 140.41C274.36 140.41 274.93 140.41 275.50 140.41C276.08 140.41 276.65 140.41 277.22 140.41C277.79 140.41 278.37 140.41 278.94 140.41C279.51 140.41 280.08 140.41 280.66 140.41C281.23 140.41 281.80 140.41 282.37 140.41C282.95 140.41 283.52 140.41 284.09 140.41C284.66 140.41 285.24 140.41 285.81 140.41C286.38 140.41 286.95 140.41 287.52 140.41C288.10 140.41 288.67 140.41 289.24 140.41C289.82 140.41 290.39 140.41 290.96 140.41C291.53 140.41 292.11 140.41 292.68 140.41C293.25 140.41 293.82 140.41 294.39 140.41C294.97 140.41 295.54 140.41 296.11 140.41C296.69 140.41 297.26 140.41 297.83 140.41C298.40 140.41 298.98 140.41 299.55 140.41C300.12 140.41 300.69 140.41 301.26 140.41C301.84 140.41 302.41 140.41 302.98 140.41C303.56 140.41 304.41 140.41 304.70 140.41" fill="none" stroke="#00ff00" stroke-width="2" stroke-dasharray="5.9 2.4"/>
<path d="M304.70 136.60C331.13 136.60 436.87 136.60 463.30 136.60" fill="none" stroke="#ff0000" stroke-width="2"/>
<path d="M304.70 131.60C331.13 131.60 436.87 131.60 463.30 131.60" fill="none" stroke="#00ff00" stroke-width="2" stroke-dasharray="5.9 2.4"/>
<path d="M304.70 131.60C331.13 131.60 436.87 131.60 463.30 131.60" fill="none" stroke="#0000ff" stroke-width="2" stroke-dasharray="5.9 5.1 2.0 5.4"/>
<path d="M478.00 146.80C485.00 146.27 506.33 144.50 520.00 143.60C533.67 142.70 544.83 142.08 560.00 141.40C575.17 140.72 602.50 139.82 611.00 139.50" fill="none" stroke="#ff0000" stroke-width="2"/>
<path d="M478.00 141.40C485.00 141.18 506.33 140.53 520.00 140.10C533.67 139.67 544.83 139.20 560.00 138.80C575.17 138.40 602.50 137.88 611.00 137.70" fill="none" stroke="#00ff00" stroke-width="2" stroke-dasharray="5.9 2.4"/>
<path d="M249.0 94.8L288.1 94.8" fill="none" stroke="#ff0000" stroke-width="2"/>
<path d="M249.0 108.0L288.1 108.0" fill="none" stroke="#00ff00" stroke-width="2" stroke-dasharray="5.9 2.4"/>
<path d="M408.3 81.4L447.5 81.4" fill="none" stroke="#ff0000" stroke-width="2"/>
<path d="M408.3 94.8L447.5 94.8" fill="none" stroke="#00ff00" stroke-width="2" stroke-dasharray="5.9 2.4"/>
<path d="M408.3 108.2L447.5 108.2" fill="none" stroke="#0000ff" stroke-width="2" stroke-dasharray="5.9 5.1 2.0 5.4"/>
<path d="M569.0 94.8L608.1 94.8" fill="none" stroke="#ff0000" stroke-width="2"/>
<path d="M569.0 108.0L608.1 108.0" fill="none" stroke="#00ff00" stroke-width="2" stroke-dasharray="5.9 2.4"/>
<path d="M249.0 206.7L288.1 206.7" fill="none" stroke="#ff0000" stroke-width="2"/>
<path d="M249.0 220.1L288.1 220.1" fill="none" stroke="#00ff00" stroke-width="2" stroke-dasharray="5.9 2.4"/>
<path d="M408.3 193.4L447.5 193.4" fill="none" stroke="#ff0000" stroke-width="2"/>
<path d="M408.3 206.8L447.5 206.8" fill="none" stroke="#00ff00" stroke-width="2" stroke-dasharray="5.9 2.4"/>
<path d="M408.3 220.2L447.5 220.2" fill="none" stroke="#0000ff" stroke-width="2" stroke-dasharray="5.9 5.1 2.0 5.4"/>
<path d="M569.0 206.7L608.1 206.7" fill="none" stroke="#ff0000" stroke-width="2"/>
<path d="M569.0 220.2L608.1 220.2" fill="none" stroke="#00ff00" stroke-width="2" stroke-dasharray="5.9 2.4"/>
<path class="a" d="M64.25 9.9H624.2V233.75H64.25Z M64.25 121.85H624.2 M304.7 9.9V233.75 M464.8 9.9V233.75" stroke-linejoin="miter"/>
<text x="56.60" y="14.55" text-anchor="end">1</text>
<text x="56.60" y="36.94" text-anchor="end">0.8</text>
<text x="56.60" y="59.33" text-anchor="end">0.6</text>
<text x="56.60" y="81.72" text-anchor="end">0.4</text>
<text x="56.60" y="104.11" text-anchor="end">0.2</text>
<text x="56.60" y="126.50" text-anchor="end">0</text>
<text x="56.60" y="154.47" text-anchor="end">1.5</text>
<text x="56.60" y="182.45" text-anchor="end">1</text>
<text x="56.60" y="210.43" text-anchor="end">0.5</text>
<text x="56.60" y="238.40" text-anchor="end">0</text>
<text x="52.09" y="252.6">10<tspan dy="-5.2" font-size="10.67">-2</tspan></text>
<text x="86.44" y="252.6">10<tspan dy="-5.2" font-size="10.67">-1</tspan></text>
<text x="122.57" y="252.6">10<tspan dy="-5.2" font-size="10.67">0</tspan></text>
<text x="156.92" y="252.6">10<tspan dy="-5.2" font-size="10.67">1</tspan></text>
<text x="191.27" y="252.6">10<tspan dy="-5.2" font-size="10.67">2</tspan></text>
<text x="225.62" y="252.6">10<tspan dy="-5.2" font-size="10.67">3</tspan></text>
<text x="259.97" y="252.6">10<tspan dy="-5.2" font-size="10.67">4</tspan></text>
<text x="292.54" y="252.6">10<tspan dy="-5.2" font-size="10.67">-2</tspan></text>
<text x="332.57" y="252.6">10<tspan dy="-5.2" font-size="10.67">-1</tspan></text>
<text x="374.37" y="252.6">10<tspan dy="-5.2" font-size="10.67">0</tspan></text>
<text x="414.39" y="252.6">10<tspan dy="-5.2" font-size="10.67">1</tspan></text>
<text x="454.42" y="252.6">10<tspan dy="-5.2" font-size="10.67">2</tspan></text>
<text x="478.08" y="252.60" text-anchor="middle">1</text>
<text x="504.65" y="252.60" text-anchor="middle">1.5</text>
<text x="531.22" y="252.60" text-anchor="middle">2</text>
<text x="557.78" y="252.60" text-anchor="middle">2.5</text>
<text x="584.35" y="252.60" text-anchor="middle">3</text>
<text x="610.92" y="252.60" text-anchor="middle">3.5</text>
<text x="241.20" y="99.40" text-anchor="end">l=0</text>
<text x="241.20" y="112.70" text-anchor="end">l=1/2</text>
<text x="241.20" y="211.30" text-anchor="end">l=0</text>
<text x="241.20" y="224.70" text-anchor="end">l=1/2</text>
<text x="561.50" y="99.40" text-anchor="end">l=1/2</text>
<text x="561.50" y="112.70" text-anchor="end">l=9/2</text>
<text x="561.50" y="211.30" text-anchor="end">l=1/2</text>
<text x="561.50" y="224.70" text-anchor="end">l=9/2</text>
<text x="318.80" y="85.90">D<tspan dy="3.9" font-size="10.67">0</tspan><tspan dy="-3.9">/&lt;</tspan><tspan class="sf">Γ</tspan><tspan dy="4.0" font-size="10.67" font-style="italic"><tspan class="sf" dx="-0.3">γ</tspan><tspan dx="0">0</tspan></tspan><tspan dy="-4.0" dx="0.4">&gt;</tspan>=10<tspan dy="-5.6" font-size="10.67">1</tspan></text>
<text x="318.80" y="99.30">D<tspan dy="3.9" font-size="10.67">0</tspan><tspan dy="-3.9">/&lt;</tspan><tspan class="sf">Γ</tspan><tspan dy="4.0" font-size="10.67" font-style="italic"><tspan class="sf" dx="-0.3">γ</tspan><tspan dx="0">0</tspan></tspan><tspan dy="-4.0" dx="0.4">&gt;</tspan>=10<tspan dy="-5.6" font-size="10.67">2</tspan></text>
<text x="318.80" y="112.70">D<tspan dy="3.9" font-size="10.67">0</tspan><tspan dy="-3.9">/&lt;</tspan><tspan class="sf">Γ</tspan><tspan dy="4.0" font-size="10.67" font-style="italic"><tspan class="sf" dx="-0.3">γ</tspan><tspan dx="0">0</tspan></tspan><tspan dy="-4.0" dx="0.4">&gt;</tspan>=10<tspan dy="-5.6" font-size="10.67">4</tspan></text>
<text x="318.80" y="197.90">D<tspan dy="3.9" font-size="10.67">0</tspan><tspan dy="-3.9">/&lt;</tspan><tspan class="sf">Γ</tspan><tspan dy="4.0" font-size="10.67" font-style="italic"><tspan class="sf" dx="-0.3">γ</tspan><tspan dx="0">0</tspan></tspan><tspan dy="-4.0" dx="0.4">&gt;</tspan>=10<tspan dy="-5.6" font-size="10.67">1</tspan></text>
<text x="318.80" y="211.30">D<tspan dy="3.9" font-size="10.67">0</tspan><tspan dy="-3.9">/&lt;</tspan><tspan class="sf">Γ</tspan><tspan dy="4.0" font-size="10.67" font-style="italic"><tspan class="sf" dx="-0.3">γ</tspan><tspan dx="0">0</tspan></tspan><tspan dy="-4.0" dx="0.4">&gt;</tspan>=10<tspan dy="-5.6" font-size="10.67">2</tspan></text>
<text x="318.80" y="224.70">D<tspan dy="3.9" font-size="10.67">0</tspan><tspan dy="-3.9">/&lt;</tspan><tspan class="sf">Γ</tspan><tspan dy="4.0" font-size="10.67" font-style="italic"><tspan class="sf" dx="-0.3">γ</tspan><tspan dx="0">0</tspan></tspan><tspan dy="-4.0" dx="0.4">&gt;</tspan>=10<tspan dy="-5.6" font-size="10.67">4</tspan></text>
<text x="530.00" y="171.20">D<tspan dy="3.9" font-size="10.67">0</tspan><tspan dy="-3.9">/&lt;</tspan><tspan class="sf">Γ</tspan><tspan dy="4.0" font-size="10.67" font-style="italic"><tspan class="sf" dx="-0.3">γ</tspan><tspan dx="0">0</tspan></tspan><tspan dy="-4.0" dx="0.4">&gt;</tspan>=10<tspan dy="-6.9" font-size="10.67">2</tspan></text>
<text x="157.60" y="270.30">D<tspan dy="3.9" font-size="10.67">0</tspan><tspan dy="-3.9">/&lt;</tspan><tspan class="sf">Γ</tspan><tspan dy="4.0" font-size="10.67" font-style="italic"><tspan class="sf" dx="-0.3">γ</tspan><tspan dx="0">0</tspan></tspan><tspan dy="-4.0" dx="0.4">&gt;</tspan></text>
<text x="191.4" y="171.8">S<tspan dy="3.9" font-size="10.67">0</tspan><tspan dy="-3.9">=1x10</tspan><tspan dy="-5.9" font-size="10.67">-4</tspan></text>
<text x="345.30" y="171.80">l=0</text>
<text x="377.3" y="270.6">S<tspan dy="3.9" font-size="10.67">0</tspan></text>
<text x="504.0" y="271.3">D<tspan dy="3.9" font-size="10.67">0</tspan><tspan dy="-10.2" dx="0.3" font-size="10.67">l-1/2</tspan><tspan dy="6.3">/</tspan><tspan dx="0.3">D</tspan><tspan dy="3.9" font-size="10.67">0</tspan><tspan dy="-10.2" dx="0.2" font-size="10.67">l+1/2</tspan></text>
<text transform="translate(23.6,65.7) rotate(-90)" text-anchor="middle" x="0" y="0">V</text>
<g transform="translate(23.2,194.2) rotate(-90)"><text x="0" y="0">σ</text><text x="7.6" y="-6.2" font-size="7.3">M</text><text x="7.6" y="0.9" font-size="7.3">rnd</text><text x="17.0" y="0">/</text><text x="20.3" y="0">σ</text><text x="27.7" y="-6.2" font-size="7.3">S</text><text x="27.7" y="0.9" font-size="7.3">rnd</text></g>
</svg></body></html>
